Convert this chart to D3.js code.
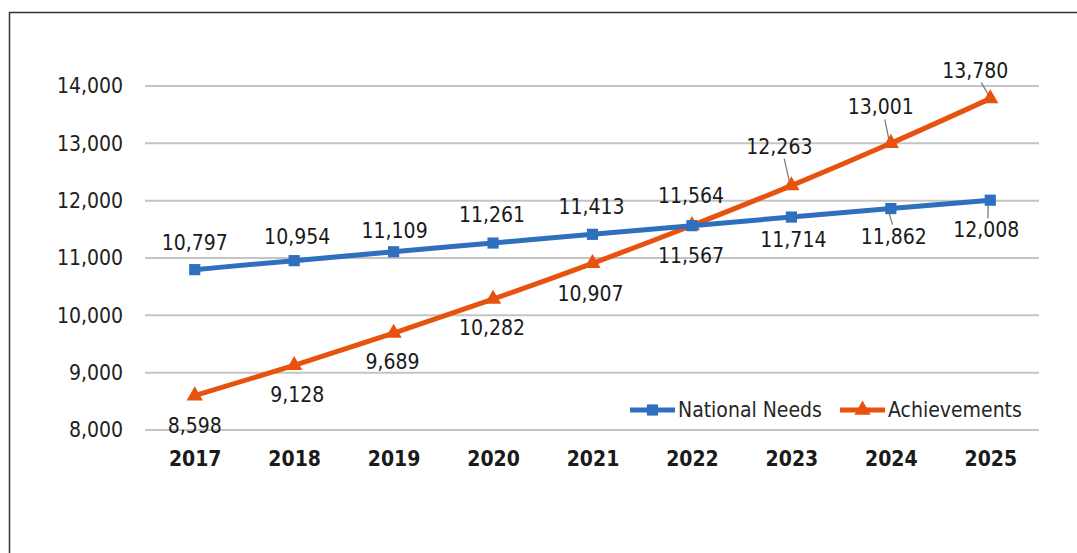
<!DOCTYPE html>
<html>
<head>
<meta charset="utf-8">
<script src="https://cdn.jsdelivr.net/npm/d3@7"></script>
<style>
  body { margin: 0; background: #fff; }
  svg { display: block; font-family: "DejaVu Sans Condensed", "DejaVu Sans", sans-serif; }
</style>
</head>
<body>
<div id="chart"></div>
<script>
const years = ["2017", "2018", "2019", "2020", "2021", "2022", "2023", "2024", "2025"];
const nationalNeeds = [10797, 10954, 11109, 11261, 11413, 11564, 11714, 11862, 12008];
const achievements = [8598, 9128, 9689, 10282, 10907, 11567, 12263, 13001, 13780];
const yTicks = [8000, 9000, 10000, 11000, 12000, 13000, 14000];
const seriesNames = ["National Needs", "Achievements"];

// label placement relative to each point: [dx, dy, leader]
const needsLabelPos = [[0, -27], [3, -24], [1, -21], [-1, -28], [-1, -27], [-1, -30], [2, 23], [3, 28, true], [-4, 30, true]];
const achLabelPos = [[0, 30], [3, 30], [-1, 29], [-1, 29], [-2, 31], [-1, 31], [-12, -39, true], [-10, -36, true], [-15, -28, true]];

const W = 1077, H = 553;
const blue = "#2e70bd", orange = "#e8520f";

const svg = d3.select("#chart").append("svg").attr("width", W).attr("height", H);

svg.append("rect")
  .attr("x", 9.5).attr("y", 12.5)
  .attr("width", 1100).attr("height", 600)
  .attr("fill", "#fff").attr("stroke", "#333").attr("stroke-width", 1.5);

const x = d3.scalePoint().domain(years).range([145, 1040]).padding(0.5);
const y = d3.scaleLinear().domain([8000, 14000]).range([430, 86]);

// gridlines
svg.append("g")
  .selectAll("line")
  .data(yTicks)
  .enter()
  .append("line")
  .attr("x1", 145).attr("x2", 1039)
  .attr("y1", (d) => y(d)).attr("y2", (d) => y(d))
  .attr("stroke", "#c4c4c4").attr("stroke-width", 2);

const fmt = d3.format(",");

const yAxis = svg.append("g")
  .attr("transform", "translate(145,0)")
  .call(d3.axisLeft(y).tickValues(yTicks).tickFormat(fmt).tickSize(0).tickPadding(22));
yAxis.select(".domain").remove();
yAxis.selectAll("text")
  .attr("fill", "#222")
  .style("font-size", "21px")
  .style("font-family", "\"DejaVu Sans Condensed\", \"DejaVu Sans\", sans-serif");

const xAxis = svg.append("g")
  .attr("transform", "translate(0,430)")
  .call(d3.axisBottom(x).tickSize(0).tickPadding(21));
xAxis.select(".domain").remove();
xAxis.selectAll("text")
  .attr("fill", "#1a1a1a")
  .style("font-size", "21px")
  .style("font-weight", "bold")
  .style("font-family", "\"DejaVu Sans Condensed\", \"DejaVu Sans\", sans-serif");

const line = d3.line()
  .x((d, i) => x(years[i]))
  .y((d) => y(d))
  .curve(d3.curveMonotoneX);

function drawSeries(values, color, marker, labelPos) {
  const g = svg.append("g");

  // leader lines
  g.selectAll("line.leader")
    .data(values.map((v, i) => ({ v, i, p: labelPos[i] })).filter((d) => d.p[2]))
    .enter()
    .append("line")
    .attr("class", "leader")
    .attr("x1", (d) => x(years[d.i]) - 2)
    .attr("y1", (d) => y(d.v) + (d.p[1] < 0 ? -4 : 4))
    .attr("x2", (d) => x(years[d.i]) + d.p[0] * 0.6)
    .attr("y2", (d) => y(d.v) + d.p[1] + (d.p[1] < 0 ? 12 : -12))
    .attr("stroke", "#7f7f7f")
    .attr("stroke-width", 1.3);

  g.append("path")
    .datum(values)
    .attr("fill", "none")
    .attr("stroke", color)
    .attr("stroke-width", 5)
    .attr("d", line);

  g.selectAll("path.marker")
    .data(values)
    .enter()
    .append("path")
    .attr("class", "marker")
    .attr("transform", (d, i) => `translate(${x(years[i])},${y(d)})`)
    .attr("d", marker)
    .attr("fill", color);

  g.selectAll("text")
    .data(values)
    .enter()
    .append("text")
    .attr("x", (d, i) => x(years[i]) + labelPos[i][0])
    .attr("y", (d, i) => y(d) + labelPos[i][1])
    .attr("text-anchor", "middle")
    .attr("dominant-baseline", "central")
    .attr("fill", "#1a1a1a")
    .style("font-size", "21px")
    .text((d) => fmt(d));
}

const squareSym = d3.symbol().type(d3.symbolSquare).size(125);
const triSym = d3.symbol().type(d3.symbolTriangle).size(115);

drawSeries(achievements, orange, triSym, achLabelPos);
drawSeries(nationalNeeds, blue, squareSym, needsLabelPos);

// legend
const legendItems = [
  { name: seriesNames[0], color: blue, sym: squareSym, x: 630 },
  { name: seriesNames[1], color: orange, sym: triSym, x: 840 },
];
const legend = svg.append("g").attr("transform", "translate(0,410)");
const li = legend.selectAll("g").data(legendItems).enter().append("g")
  .attr("transform", (d) => `translate(${d.x},0)`);
li.append("line")
  .attr("x1", 0).attr("x2", 45)
  .attr("stroke", (d) => d.color).attr("stroke-width", 5);
li.append("path")
  .attr("transform", "translate(22.5,0)")
  .attr("d", (d) => d.sym())
  .attr("fill", (d) => d.color);
li.append("text")
  .attr("x", 48)
  .attr("dominant-baseline", "central")
  .attr("fill", "#262626")
  .style("font-size", "21px")
  .text((d) => d.name);
</script>
</body>
</html>
